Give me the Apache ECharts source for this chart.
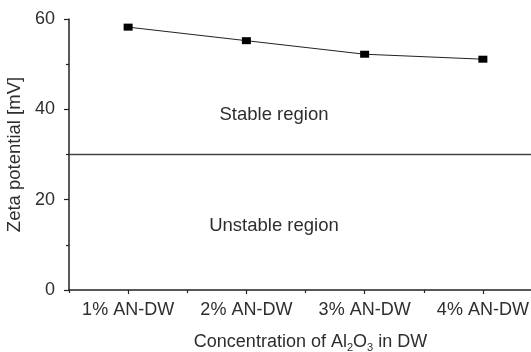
<!DOCTYPE html>
<html>
<head>
<meta charset="utf-8">
<script src="https://cdn.jsdelivr.net/npm/echarts@6/dist/echarts.min.js"></script>
<style>
  html, body { margin: 0; padding: 0; background: #fff; }
  #zetaChart { width: 531px; height: 352px; }
</style>
</head>
<body>
<div id="zetaChart"></div>
<script>
// data
const categories = ['1% AN-DW', '2% AN-DW', '3% AN-DW', '4% AN-DW'];
const zetaValues = [58.2, 55.2, 52.2, 51.1];
const stableLimit = 30; // boundary between stable / unstable
const yTicks = { min: 0, max: 60, interval: 20 };

const chartDom = document.getElementById('zetaChart');
const myChart = echarts.init(chartDom, null, { renderer: 'canvas' });

const textColor = '#2e2e2e';
const axisColor = '#222';
const font = 'Liberation Sans, Arial, sans-serif';

const option = {
    animation: false,
    backgroundColor: '#fff',
    grid: {
        left: 69,
        top: 19,
        width: 473, // plot runs past the right edge, last label is cut
        height: 271,
        containLabel: false,
        outerBoundsMode: 'none'
    },
    xAxis: [
        {
            type: 'category',
            data: categories,
            boundaryGap: true,
            name: '{n|Concentration of Al}{s|2}{n|O}{s|3}{n| in DW}',
            nameLocation: 'middle',
            nameGap: 41,
            nameTextStyle: {
                padding: [0, 0, 0, 10],
                rich: {
                    n: { fontSize: 18, fontFamily: font, color: textColor, lineHeight: 22 },
                    s: { fontSize: 11, fontFamily: font, color: textColor, lineHeight: 22, verticalAlign: 'bottom' }
                }
            },
            axisLine: { show: true, lineStyle: { color: axisColor, width: 1.5 } },
            axisTick: { show: true, alignWithLabel: true, length: 4, lineStyle: { color: axisColor, width: 1.2 } },
            axisLabel: {
                fontSize: 18,
                fontFamily: font,
                color: textColor,
                margin: 11,
                interval: 0
            },
            splitLine: { show: false }
        },
        {
            // second axis only for the ticks between categories
            type: 'category',
            data: categories,
            position: 'bottom',
            boundaryGap: true,
            axisLine: { show: false },
            axisTick: { show: true, length: 3, lineStyle: { color: axisColor, width: 1.2 } },
            axisLabel: { show: false },
            splitLine: { show: false }
        }
    ],
    yAxis: {
        type: 'value',
        min: yTicks.min,
        max: yTicks.max,
        interval: yTicks.interval,
        name: 'Zeta potential [mV]',
        nameLocation: 'middle',
        nameGap: 39,
        nameTextStyle: { fontSize: 18.5, fontFamily: font, color: textColor },
        axisLine: { show: true, lineStyle: { color: axisColor, width: 1.5 } },
        axisTick: { show: true, length: 5, lineStyle: { color: axisColor, width: 1.2 } },
        minorTick: { show: true, splitNumber: 2, length: 3, lineStyle: { color: axisColor, width: 1.2 } },
        axisLabel: {
            fontSize: 18,
            fontFamily: font,
            color: textColor,
            margin: 14
        },
        splitLine: { show: false }
    },
    series: [
        {
            name: 'Zeta potential',
            type: 'line',
            data: zetaValues,
            symbol: 'rect',
            symbolSize: [9, 7],
            itemStyle: { color: '#000' },
            lineStyle: { color: '#222', width: 1 },
            markLine: {
                silent: true,
                symbol: ['none', 'none'],
                label: { show: false },
                lineStyle: { color: '#444', width: 1.3, type: 'solid' },
                data: [{ yAxis: stableLimit }]
            }
        }
    ],
    graphic: [
        {
            type: 'text',
            x: 274,
            y: 115,
            style: {
                text: 'Stable region',
                fontSize: 18.5,
                fontFamily: font,
                fill: textColor,
                textAlign: 'center',
                textVerticalAlign: 'middle'
            }
        },
        {
            type: 'text',
            x: 274,
            y: 226,
            style: {
                text: 'Unstable region',
                fontSize: 18.5,
                fontFamily: font,
                fill: textColor,
                textAlign: 'center',
                textVerticalAlign: 'middle'
            }
        }
    ]
};

myChart.setOption(option);
</script>
</body>
</html>
